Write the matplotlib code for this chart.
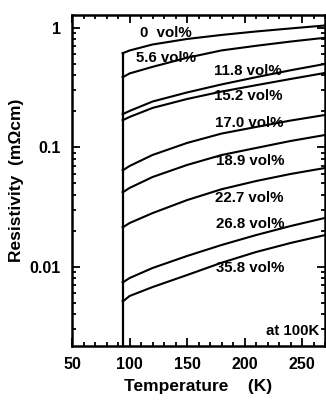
import matplotlib
matplotlib.use("Agg")
import matplotlib.pyplot as plt
from matplotlib.ticker import LogLocator, MultipleLocator, NullFormatter, FixedLocator, FixedFormatter

plt.rcParams['font.family'] = ['Liberation Sans', 'DejaVu Sans']

# temperatures (K) where the curves were read
T = [94.6, 100, 120, 150, 180, 210, 240, 270]
Tc = 94.0

# resistivity (mOhm cm) for each Fe content
rho_0 = [0.614, 0.644, 0.723, 0.804, 0.869, 0.929, 0.985, 1.043]
rho_56 = [0.387, 0.414, 0.470, 0.560, 0.645, 0.705, 0.765, 0.823]
rho_118 = [0.190, 0.201, 0.241, 0.287, 0.335, 0.385, 0.440, 0.497]
rho_152 = [0.169, 0.179, 0.213, 0.253, 0.292, 0.330, 0.372, 0.418]
rho_170 = [0.0644, 0.0696, 0.0861, 0.1085, 0.1300, 0.1476, 0.167, 0.186]
rho_189 = [0.0422, 0.0456, 0.0563, 0.071, 0.086, 0.0985, 0.1127, 0.1265]
rho_227 = [0.0215, 0.0232, 0.0281, 0.0361, 0.0445, 0.0521, 0.0597, 0.067]
rho_268 = [0.00744, 0.00804, 0.00976, 0.0123, 0.0152, 0.0184, 0.0219, 0.0256]
rho_358 = [0.00516, 0.00569, 0.00676, 0.00852, 0.0108, 0.01328, 0.0158, 0.0184]

curves = [rho_0, rho_56, rho_118, rho_152, rho_170, rho_189, rho_227, rho_268, rho_358]

labels = ["0  vol%", "5.6 vol%", "11.8 vol%", "15.2 vol%", "17.0 vol%",
          "18.9 vol%", "22.7 vol%", "26.8 vol%", "35.8 vol%"]
label_T = [132, 132, 203, 203, 204, 205, 204, 205, 205]
label_rho = [0.90, 0.557, 0.434, 0.268, 0.16, 0.0766, 0.0376, 0.0228, 0.00975]

xlim = (50, 270)
ylim = (0.00217, 1.28)

fig = plt.figure(figsize=(3.26, 4.01), dpi=100)
ax = fig.add_axes([0.221, 0.137, 0.776, 0.826])

ax.vlines(Tc, ylim[0], rho_0[0], color="black", lw=1.6)
for r in curves:
    ax.plot([Tc] + T, [r[0]] + r, color="black", lw=1.5)

for lab, lt, lr in zip(labels, label_T, label_rho):
    ax.text(lt, lr, lab, ha="center", va="center", fontsize=10.8, fontweight="bold")

ax.text(265, 0.00288, "at 100K", ha="right", va="center", fontsize=10.8, fontweight="bold")

ax.set_yscale("log")
ax.set_xlim(*xlim)
ax.set_ylim(*ylim)

ax.xaxis.set_major_locator(MultipleLocator(50))
ax.xaxis.set_minor_locator(MultipleLocator(10))
ax.yaxis.set_major_locator(FixedLocator([0.01, 0.1, 1]))
ax.yaxis.set_major_formatter(FixedFormatter(["0.01", "0.1", "1"]))
ax.yaxis.set_minor_locator(LogLocator(base=10, subs=range(2, 10)))
ax.yaxis.set_minor_formatter(NullFormatter())

ax.tick_params(which="both", direction="in", top=True, right=True, width=1.3)
ax.tick_params(which="major", length=6, labelsize=11.5, pad=8)
ax.tick_params(which="minor", length=3)
for lab in ax.get_xticklabels() + ax.get_yticklabels():
    lab.set_fontweight("bold")
for s in ax.spines.values():
    s.set_linewidth(1.8)

ax.set_xlabel("Temperature    (K)", fontsize=12.5, fontweight="bold", labelpad=5)
ax.set_ylabel("Resistivity  (m\u03a9cm)", fontsize=12.5, fontweight="bold", labelpad=4)

fig.savefig("out.png", dpi=100)
